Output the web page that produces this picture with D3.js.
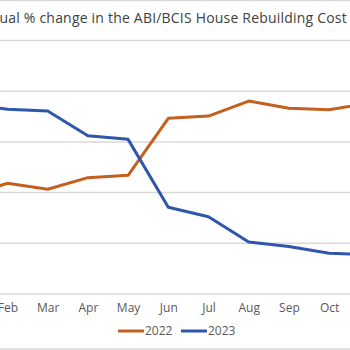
<!DOCTYPE html>
<html>
<head>
<meta charset="utf-8">
<script src="https://cdn.jsdelivr.net/npm/d3@7"></script>
<style>
  html, body { margin: 0; padding: 0; background: #fff; overflow: hidden; }
  svg { display: block; font-family: "Open Sans", "Noto Sans", sans-serif; }
</style>
</head>
<body>
<svg id="chart" width="350" height="350"></svg>
<script>
const titleText = "Annual % change in the ABI/BCIS House Rebuilding Cost Index";
const months = ["Jan","Feb","Mar","Apr","May","Jun","Jul","Aug","Sep","Oct","Nov","Dec"];
const series2022 = [3.87, 4.37, 4.13, 4.59, 4.68, 6.93, 7.02, 7.61, 7.33, 7.27, 7.53];
const series2023 = [7.50, 7.29, 7.22, 6.24, 6.10, 3.42, 3.05, 2.05, 1.87, 1.61, 1.54];
const yTicks = [0, 2, 4, 6, 8, 10];
const seriesNames = ["2022", "2023"];
const colors = ["#c4601f", "#2f56ad"];

const svg = d3.select("#chart");
const W = 350, H = 350;

// frame lines
svg.append("line").attr("x1", 0).attr("x2", W).attr("y1", 0.5).attr("y2", 0.5)
  .attr("stroke", "#d9d9d9").attr("stroke-width", 1.5);
svg.append("line").attr("x1", 0).attr("x2", W).attr("y1", 349).attr("y2", 349)
  .attr("stroke", "#d9d9d9").attr("stroke-width", 1.5);

// title (cropped on both sides like the reference)
const title = svg.append("text").attr("y", 23).attr("font-size", 14).attr("fill", "#404040")
  .attr("letter-spacing", 0.2).text(titleText);
const tmp = svg.append("text").attr("font-size", 14).attr("letter-spacing", 0.2)
  .text("Ann").attr("opacity", 0);
const offset = tmp.node().getComputedTextLength();
tmp.remove();
title.attr("x", -offset - 0.5);

const x = d3.scalePoint().domain(months).range([-32.7, 409.5]);
const y = d3.scaleLinear().domain([0, 10]).range([294, 40.5]);

// gridlines
svg.append("g").selectAll("line").data(yTicks).join("line")
  .attr("x1", 0).attr("x2", W)
  .attr("y1", d => y(d)).attr("y2", d => y(d))
  .attr("stroke", "#d9d9d9").attr("stroke-width", 1.5);

// x axis labels
const xAxis = d3.axisBottom(x).tickSize(0).tickPadding(9);
const gx = svg.append("g").attr("transform", `translate(0,${y(0)})`).call(xAxis);
gx.select(".domain").remove();
gx.selectAll("text").attr("font-size", 12).attr("fill", "#595959")
  .attr("font-family", "'Open Sans', 'Noto Sans', sans-serif");

const line = d3.line().x((d, i) => x(months[i])).y(d => y(d));
[series2022, series2023].forEach((s, k) => {
  svg.append("path").datum(s).attr("d", line)
    .attr("fill", "none").attr("stroke", colors[k]).attr("stroke-width", 3)
    .attr("stroke-linejoin", "round");
});

// legend
const legendX = [118, 181];
seriesNames.forEach((n, k) => {
  const g = svg.append("g").attr("transform", `translate(${legendX[k]},331)`);
  g.append("line").attr("x1", 0).attr("x2", 26).attr("y1", 0).attr("y2", 0)
    .attr("stroke", colors[k]).attr("stroke-width", 3);
  g.append("text").attr("x", 27).attr("y", 4.3).attr("font-size", 12)
    .attr("fill", "#595959").text(n);
});
</script>
</body>
</html>
